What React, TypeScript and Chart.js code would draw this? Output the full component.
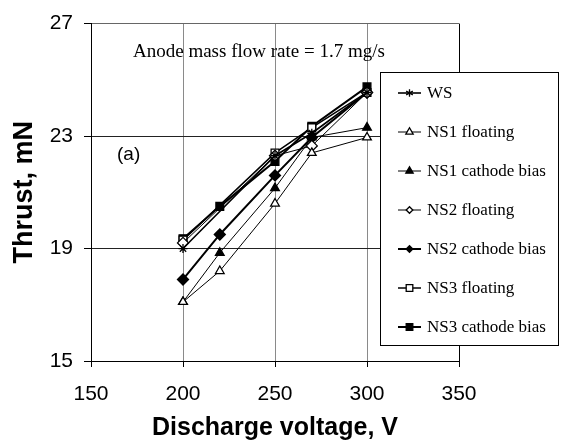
import React, { useEffect, useRef } from 'react';
import { Chart, registerables } from 'chart.js';

Chart.register(...registerables);

// ---- data ----
const voltages = [200, 220, 250, 270, 300];
const seriesNames = [
  'WS',
  'NS1 floating',
  'NS1 cathode bias',
  'NS2 floating',
  'NS2 cathode bias',
  'NS3 floating',
  'NS3 cathode bias',
];
const wsThrust = [19.0, null, 22.3, 23.1, 24.55];
const ns1FloatingThrust = [17.1, 18.2, 20.6, 22.4, 22.95];
const ns1CathodeThrust = [17.1, 18.85, 21.15, 22.95, 23.3];
const ns2FloatingThrust = [19.2, null, 22.3, 22.65, 24.55];
const ns2CathodeThrust = [17.9, 19.5, 21.6, 22.95, 24.55];
const ns3FloatingThrust = [19.3, null, 22.4, 23.3, 24.55];
const ns3CathodeThrust = [19.35, 20.5, 22.1, 23.35, 24.75];
const xTicks = [150, 200, 250, 300, 350];
const yTicks = [15, 19, 23, 27];
const annotationText = 'Anode mass flow rate = 1.7 mg/s';
const panelLabel = '(a)';
const xTitle = 'Discharge voltage, V';
const yTitle = 'Thrust, mN';

const seriesValues = [
  wsThrust,
  ns1FloatingThrust,
  ns1CathodeThrust,
  ns2FloatingThrust,
  ns2CathodeThrust,
  ns3FloatingThrust,
  ns3CathodeThrust,
];

type Style = { point: string; fill: string; lw: number; r: number };
const styles: Style[] = [
  { point: 'star', fill: '#000', lw: 1.6, r: 4.5 },
  { point: 'triangle', fill: '#fff', lw: 1, r: 5 },
  { point: 'triangle', fill: '#000', lw: 1, r: 5 },
  { point: 'rectRot', fill: '#fff', lw: 1, r: 5.5 },
  { point: 'rectRot', fill: '#000', lw: 2, r: 5.5 },
  { point: 'rect', fill: '#fff', lw: 1.5, r: 5.5 },
  { point: 'rect', fill: '#000', lw: 2, r: 5.5 },
];

function drawMarker(ctx: CanvasRenderingContext2D, kind: string, x: number, y: number, r: number, fill: string) {
  ctx.save();
  ctx.lineWidth = 1.3;
  ctx.strokeStyle = '#000';
  ctx.fillStyle = fill;
  ctx.beginPath();
  if (kind === 'rect') {
    const s = r * Math.SQRT1_2;
    ctx.rect(x - s, y - s, 2 * s, 2 * s);
    ctx.fill();
    ctx.stroke();
  } else if (kind === 'rectRot') {
    const s = r * Math.SQRT1_2;
    ctx.moveTo(x - s, y);
    ctx.lineTo(x, y + s);
    ctx.lineTo(x + s, y);
    ctx.lineTo(x, y - s);
    ctx.closePath();
    ctx.fill();
    ctx.stroke();
  } else if (kind === 'triangle') {
    const h = r * 1.5;
    const sideLen = (h * 2) / Math.sqrt(3);
    ctx.moveTo(x - sideLen / 2, y + h / 3);
    ctx.lineTo(x + sideLen / 2, y + h / 3);
    ctx.lineTo(x, y - (2 * h) / 3);
    ctx.closePath();
    ctx.fill();
    ctx.stroke();
  } else {
    for (let a = 0; a < 3; a++) {
      const ang = (a * Math.PI) / 3 + Math.PI / 2;
      ctx.moveTo(x + Math.cos(ang) * r, y + Math.sin(ang) * r);
      ctx.lineTo(x - Math.cos(ang) * r, y - Math.sin(ang) * r);
    }
    ctx.stroke();
  }
  ctx.restore();
}

const overlayPlugin = {
  id: 'overlay',
  afterDraw(chart: any) {
    const ctx: CanvasRenderingContext2D = chart.ctx;
    ctx.save();
    // annotation text
    ctx.fillStyle = '#000';
    ctx.font = '19px "Liberation Serif", "Times New Roman", serif';
    ctx.textAlign = 'left';
    ctx.textBaseline = 'alphabetic';
    ctx.fillText(annotationText, 133, 57);
    // panel label
    ctx.font = '19px "Liberation Sans", Arial, sans-serif';
    ctx.textBaseline = 'middle';
    ctx.fillText(panelLabel, 117, 155);

    // legend box
    const lx = 380, ly = 72, lw = 178, lh = 273;
    ctx.fillStyle = '#fff';
    ctx.fillRect(lx, ly, lw, lh);
    ctx.strokeStyle = '#000';
    ctx.lineWidth = 1;
    ctx.strokeRect(lx + 0.5, ly + 0.5, lw, lh);
    ctx.font = '17px "Liberation Serif", "Times New Roman", serif';
    ctx.textBaseline = 'middle';
    chart.data.datasets.forEach((ds: any, i: number) => {
      const st = styles[i];
      const y = 93 + i * 39;
      ctx.beginPath();
      ctx.strokeStyle = '#000';
      ctx.lineWidth = st.lw;
      ctx.moveTo(398, y);
      ctx.lineTo(421, y);
      ctx.stroke();
      drawMarker(ctx, st.point, 409.5, y, st.r * 0.85, st.fill);
      ctx.fillStyle = '#000';
      ctx.fillText(ds.label, 427, y + 1);
    });
    ctx.restore();
  },
};

export default function App() {
  const canvasRef = useRef<HTMLCanvasElement | null>(null);

  useEffect(() => {
    if (!canvasRef.current) return;
    const datasets = seriesNames.map((name, i) => {
      const st = styles[i];
      return {
        label: name,
        data: voltages.map((v, j) => ({ x: v, y: seriesValues[i][j] })),
        borderColor: '#000',
        backgroundColor: st.fill,
        borderWidth: st.lw,
        pointStyle: st.point,
        pointRadius: st.r,
        pointBorderColor: '#000',
        pointBackgroundColor: st.fill,
        pointBorderWidth: 1.3,
        spanGaps: true,
        tension: 0,
        fill: false,
      };
    });

    const chart = new Chart(canvasRef.current, {
      type: 'line',
      data: { datasets: datasets as any },
      options: {
        animation: false,
        responsive: false,
        maintainAspectRatio: false,
        layout: { padding: { top: 18, right: 106, left: 0, bottom: 0 } },
        plugins: {
          legend: { display: false },
          tooltip: { enabled: false },
        },
        scales: {
          x: {
            type: 'linear',
            min: xTicks[0],
            max: xTicks[xTicks.length - 1],
            afterBuildTicks: (scale: any) => {
              scale.ticks = xTicks.map((v) => ({ value: v }));
            },
            afterFit: (scale: any) => {
              scale.height = 86;
            },
            ticks: {
              color: '#000',
              font: { family: '"Liberation Sans", Arial, sans-serif', size: 21 },
              padding: 15,
              maxRotation: 0,
            },
            grid: {
              color: (c: any) => (c.tick && (c.tick.value === 150 || c.tick.value === 350) ? '#000' : '#8a8a8a'),
              lineWidth: 1,
              drawTicks: true,
              tickLength: 6,
              tickColor: '#000',
            },
            border: { display: true, color: '#000', width: 1 },
            title: {
              display: true,
              text: xTitle,
              color: '#000',
              font: { family: '"Liberation Sans", Arial, sans-serif', size: 25, weight: 'bold' },
              padding: { top: 0, bottom: 4 },
            },
          },
          y: {
            type: 'linear',
            min: yTicks[0],
            max: yTicks[yTicks.length - 1],
            afterBuildTicks: (scale: any) => {
              scale.ticks = yTicks.map((v) => ({ value: v }));
            },
            afterFit: (scale: any) => {
              scale.width = 91;
            },
            ticks: {
              color: '#000',
              font: { family: '"Liberation Sans", Arial, sans-serif', size: 21 },
              padding: 11,
            },
            grid: {
              color: (c: any) => (c.tick && c.tick.value === 27 ? '#666' : '#222'),
              lineWidth: 1,
              drawTicks: true,
              tickLength: 7,
              tickColor: '#000',
            },
            border: { display: true, color: '#000', width: 1 },
            title: {
              display: true,
              text: yTitle,
              color: '#000',
              font: { family: '"Liberation Sans", Arial, sans-serif', size: 27, weight: 'bold' },
              padding: { top: 8, bottom: 0 },
            },
          },
        },
      },
      plugins: [overlayPlugin],
    });
    return () => chart.destroy();
  }, []);

  return (
    <div style={{ position: 'absolute', left: 0, top: 0, width: 565, height: 447, background: '#fff' }}>
      <canvas ref={canvasRef} width={565} height={447} style={{ display: 'block' }} />
    </div>
  );
}
